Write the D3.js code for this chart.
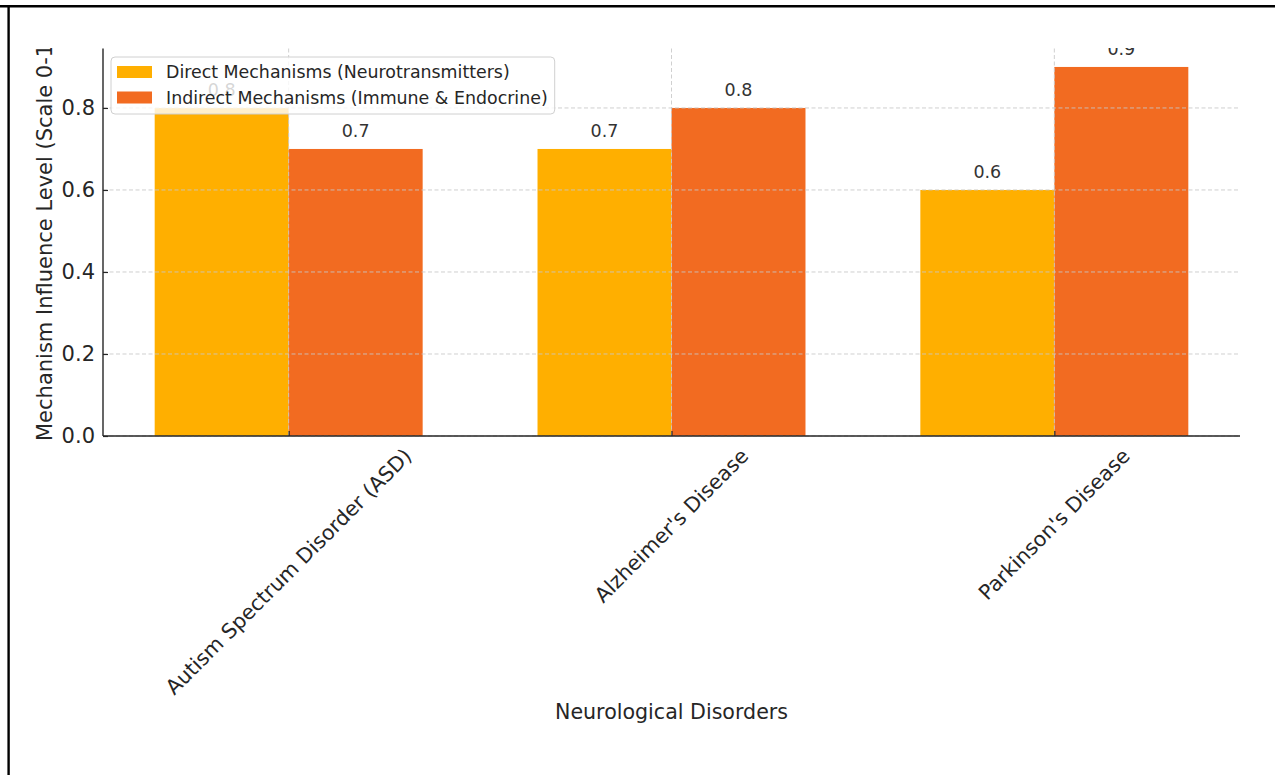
<!DOCTYPE html>
<html lang="en">
<head>
    <meta charset="UTF-8">
    <title>Neurological Disorders - Mechanism Influence</title>
    <script src="https://d3js.org/d3.v7.min.js"></script>
</head>

<style>
    body {
        margin: 0;
        background: #fff;
    }

    text {
        font-family: "DejaVu Sans", sans-serif;
        fill: #262626;
    }

    .grid line {
        stroke: #c8c8c8;
        stroke-dasharray: 4, 2.5;
        stroke-width: 1;
        opacity: 0.85;
    }

    .spine {
        stroke: #262626;
        stroke-width: 1.4;
    }
</style>

<body>
<div class="chart"></div>
<script>
    var categories = ["Autism Spectrum Disorder (ASD)", "Alzheimer's Disease", "Parkinson's Disease"];
    var seriesNames = ["Direct Mechanisms (Neurotransmitters)", "Indirect Mechanisms (Immune & Endocrine)"];
    var directValues = [0.8, 0.7, 0.6];
    var indirectValues = [0.7, 0.8, 0.9];
    var yTicks = [0.0, 0.2, 0.4, 0.6, 0.8];
    var yTickLabels = ["0.0", "0.2", "0.4", "0.6", "0.8"];

    var colors = ["#FFAF00", "#F26B21"];
    var W = 1275, H = 775;
    var plot = {left: 103, right: 1240, top: 48.5, bottom: 436};
    var barWidth = 0.35;

    var svg = d3.select(".chart")
        .append("svg")
        .attr("width", W)
        .attr("height", H);

    svg.append("rect").attr("width", W).attr("height", H).attr("fill", "#fff");

    // frame lines of the screenshot
    svg.append("line").attr("x1", 0).attr("x2", W).attr("y1", 6.2).attr("y2", 6.2)
        .attr("stroke", "#000").attr("stroke-width", 2.6);
    svg.append("line").attr("x1", 8.6).attr("x2", 8.6).attr("y1", 5).attr("y2", H)
        .attr("stroke", "#000").attr("stroke-width", 2.4);

    svg.append("defs").append("clipPath").attr("id", "crop")
        .append("rect").attr("x", 10).attr("y", 48).attr("width", W - 10).attr("height", H - 48);

    var g = svg.append("g").attr("clip-path", "url(#crop)");

    var x = d3.scaleLinear()
        .domain([-barWidth - 0.135, categories.length - 1 + barWidth + 0.135])
        .range([plot.left, plot.right]);

    var y = d3.scaleLinear()
        .domain([0, 0.945])
        .range([plot.bottom, plot.top]);

    var series = [directValues, indirectValues];

    // bars
    series.forEach(function (vals, s) {
        g.append("g")
            .selectAll("rect")
            .data(vals)
            .enter().append("rect")
            .attr("x", function (d, i) { return x(i + (s - 1) * barWidth); })
            .attr("width", function (d, i) { return x(i + s * barWidth) - x(i + (s - 1) * barWidth); })
            .attr("y", function (d) { return y(d); })
            .attr("height", function (d) { return y(0) - y(d); })
            .attr("fill", colors[s]);
    });

    // value labels
    series.forEach(function (vals, s) {
        g.append("g")
            .selectAll("text")
            .data(vals)
            .enter().append("text")
            .attr("x", function (d, i) { return x(i + (s - 0.5) * barWidth); })
            .attr("y", function (d) { return y(d + 0.02) - 4; })
            .attr("text-anchor", "middle")
            .style("font-size", "17.5px")
            .style("fill", "#333")
            .text(function (d) { return d.toFixed(1); });
    });

    // grid on top of bars
    var grid = g.append("g").attr("class", "grid");
    grid.selectAll(".hg")
        .data(yTicks)
        .enter().append("line")
        .attr("x1", plot.left).attr("x2", plot.right)
        .attr("y1", function (d) { return y(d); })
        .attr("y2", function (d) { return y(d); });
    grid.selectAll(".vg")
        .data(categories)
        .enter().append("line")
        .attr("x1", function (d, i) { return x(i); })
        .attr("x2", function (d, i) { return x(i); })
        .attr("y1", plot.top).attr("y2", plot.bottom);

    // y axis
    var yAxis = g.append("g")
        .attr("transform", "translate(" + plot.left + ",0)")
        .call(d3.axisLeft(y).tickValues(yTicks)
            .tickFormat(function (d, i) { return yTickLabels[i]; })
            .tickSizeInner(-5).tickSizeOuter(0).tickPadding(8));
    yAxis.select(".domain").remove();
    yAxis.selectAll(".tick line").attr("stroke", "#262626").attr("stroke-width", 1.2);
    yAxis.selectAll(".tick text")
        .attr("fill", "#262626")
        .style("font-size", "21px")
        .style("font-family", "'DejaVu Sans', sans-serif");

    // x ticks
    var xAxis = g.append("g")
        .attr("transform", "translate(0," + plot.bottom + ")")
        .call(d3.axisBottom(x).tickValues(d3.range(categories.length))
            .tickFormat(function (d) { return ""; })
            .tickSizeInner(-5).tickSizeOuter(0));
    xAxis.select(".domain").remove();
    xAxis.selectAll(".tick line").attr("stroke", "#262626").attr("stroke-width", 1.2);

    // spines
    g.append("line").attr("class", "spine")
        .attr("x1", plot.left).attr("x2", plot.left)
        .attr("y1", plot.top).attr("y2", plot.bottom);
    g.append("line").attr("class", "spine")
        .attr("x1", plot.left).attr("x2", plot.right)
        .attr("y1", plot.bottom).attr("y2", plot.bottom);

    // rotated category labels, centred under their tick
    var tickFont = 20.6;
    var labelTop = 445;
    g.append("g")
        .selectAll("text")
        .data(categories)
        .enter().append("text")
        .style("font-size", tickFont + "px")
        .attr("text-anchor", "middle")
        .attr("dominant-baseline", "central")
        .text(function (d) { return d; })
        .each(function (d, i) {
            var w = this.getComputedTextLength();
            var half = (w + tickFont * 1.0) * Math.SQRT1_2 / 2;
            var cx = x(i), cy = labelTop + half;
            d3.select(this)
                .attr("x", cx).attr("y", cy)
                .attr("transform", "rotate(-45," + cx + "," + cy + ")");
        });

    // axis titles
    g.append("text")
        .attr("x", (plot.left + plot.right) / 2)
        .attr("y", 719)
        .attr("text-anchor", "middle")
        .style("font-size", "20.6px")
        .text("Neurological Disorders");

    g.append("text")
        .attr("transform", "translate(52,441) rotate(-90)")
        .attr("text-anchor", "start")
        .style("font-size", "21px")
        .text("Mechanism Influence Level (Scale 0-1)");

    // legend
    var legend = g.append("g");
    var legendBox = legend.append("rect")
        .attr("x", 111).attr("y", 57)
        .attr("height", 57)
        .attr("rx", 4)
        .attr("fill", "#fff")
        .attr("fill-opacity", 0.8)
        .attr("stroke", "#d0d0d0")
        .attr("stroke-width", 1);

    var maxW = 0;
    seriesNames.forEach(function (name, s) {
        legend.append("rect")
            .attr("x", 117).attr("y", 66 + s * 25.5)
            .attr("width", 35).attr("height", 12)
            .attr("fill", colors[s]);
        var t = legend.append("text")
            .attr("x", 166).attr("y", 78 + s * 25.5)
            .style("font-size", "17.4px")
            .text(name);
        maxW = Math.max(maxW, t.node().getComputedTextLength());
    });
    legendBox.attr("width", 166 + maxW + 7 - 111);
</script>
</body>
</html>
